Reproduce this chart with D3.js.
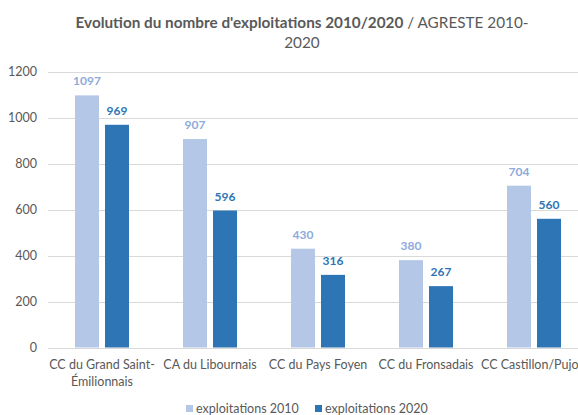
<!DOCTYPE html>
<html>
<head>
<meta charset="utf-8">
<script src="https://cdn.jsdelivr.net/npm/d3@7"></script>
<style>
    body { margin: 0; background: #fff; }
    text { font-family: Lato, "Open Sans", sans-serif; }
</style>
</head>
<body>
<div id="chart"></div>
<script>
var categories = ["CC du Grand Saint-Émilionnais", "CA du Libournais", "CC du Pays Foyen", "CC du Fronsadais", "CC Castillon/Pujols"];
var categoryLines = [["CC du Grand Saint-", "Émilionnais"], ["CA du Libournais"], ["CC du Pays Foyen"], ["CC du Fronsadais"], ["CC Castillon/Pujols"]];
var series = ["exploitations 2010", "exploitations 2020"];
var values2010 = [1097, 907, 430, 380, 704];
var values2020 = [969, 596, 316, 267, 560];
var yTicks = [0, 200, 400, 600, 800, 1000, 1200];

var width = 578,
    height = 415;

var barColor = d3.scaleOrdinal().domain(series).range(["#b4c7e7", "#2e75b6"]);
var labelColor = d3.scaleOrdinal().domain(series).range(["#8eaadb", "#2e75b6"]);

var svg = d3.select("#chart").append("svg")
    .attr("width", width)
    .attr("height", height);

// scales (plot runs a bit past the right edge, like the cropped original)
var x0 = d3.scaleBand()
    .domain(categories)
    .range([48, 588])
    .paddingInner(0.5)
    .paddingOuter(0.25);

var x1 = d3.scaleBand()
    .domain(series)
    .range([0, x0.bandwidth()])
    .paddingInner(0.2);

var y = d3.scaleLinear()
    .domain([0, 1200])
    .range([347.5, 71.7]);

// gridlines
svg.append("g")
    .selectAll("line")
    .data(yTicks)
    .enter().append("line")
    .attr("x1", 48)
    .attr("x2", width)
    .attr("y1", function(d) { return Math.round(y(d)) + 0.5; })
    .attr("y2", function(d) { return Math.round(y(d)) + 0.5; })
    .attr("stroke", "#d9d9d9")
    .attr("stroke-width", 1);

// y tick labels
svg.append("g")
    .selectAll("text")
    .data(yTicks)
    .enter().append("text")
    .attr("x", 37)
    .attr("y", function(d) { return y(d); })
    .attr("dy", "0.35em")
    .attr("text-anchor", "end")
    .attr("fill", "#595959")
    .style("font-size", "12.5px")
    .text(function(d) { return d; });

// data rows
var rows = categories.map(function(c, i) {
    return { cat: c, vals: [
        { s: series[0], v: values2010[i] },
        { s: series[1], v: values2020[i] }
    ]};
});

var groups = svg.append("g")
    .selectAll("g")
    .data(rows)
    .enter().append("g")
    .attr("transform", function(d) { return "translate(" + x0(d.cat) + ",0)"; });

groups.selectAll("rect")
    .data(function(d) { return d.vals; })
    .enter().append("rect")
    .attr("x", function(d) { return x1(d.s); })
    .attr("width", x1.bandwidth())
    .attr("y", function(d) { return y(d.v); })
    .attr("height", function(d) { return y(0) - y(d.v); })
    .attr("fill", function(d) { return barColor(d.s); });

groups.selectAll("text")
    .data(function(d) { return d.vals; })
    .enter().append("text")
    .attr("x", function(d) { return x1(d.s) + x1.bandwidth() / 2; })
    .attr("y", function(d) { return y(d.v) - 10; })
    .attr("text-anchor", "middle")
    .attr("fill", function(d) { return labelColor(d.s); })
    .style("font-size", "12px")
    .style("font-weight", "bold")
    .text(function(d) { return d.v; });

// category labels
var catLabels = svg.append("g")
    .selectAll("text")
    .data(categories)
    .enter().append("text")
    .attr("x", function(d) { return x0(d) + x0.bandwidth() / 2; })
    .attr("y", 369)
    .attr("text-anchor", "middle")
    .attr("fill", "#595959")
    .style("font-size", "12.5px");

catLabels.selectAll("tspan")
    .data(function(d, i) { return categoryLines[i]; })
    .enter().append("tspan")
    .attr("x", function() { return this.parentNode.getAttribute("x"); })
    .attr("dy", function(d, i) { return i === 0 ? 0 : 17; })
    .text(function(d) { return d; });

// title
var title = svg.append("text")
    .attr("x", 302)
    .attr("y", 28)
    .attr("text-anchor", "middle")
    .attr("fill", "#595959")
    .style("font-size", "15.3px");
title.append("tspan")
    .style("font-weight", "bold")
    .text("Evolution du nombre d'exploitations 2010/2020");
title.append("tspan")
    .text(" / AGRESTE 2010-");
svg.append("text")
    .attr("x", 302)
    .attr("y", 48)
    .attr("text-anchor", "middle")
    .attr("fill", "#595959")
    .style("font-size", "15.3px")
    .text("2020");

// legend
var legendX = d3.scaleOrdinal().domain(series).range([186, 315]);
var legend = svg.append("g")
    .selectAll("g")
    .data(series)
    .enter().append("g")
    .attr("transform", function(d) { return "translate(" + legendX(d) + ",405)"; });
legend.append("rect")
    .attr("width", 7)
    .attr("height", 7)
    .attr("fill", function(d) { return barColor(d); });
legend.append("text")
    .attr("x", 10)
    .attr("y", 4)
    .attr("dy", "0.35em")
    .attr("fill", "#595959")
    .style("font-size", "12.5px")
    .text(function(d) { return d; });
</script>
</body>
</html>
